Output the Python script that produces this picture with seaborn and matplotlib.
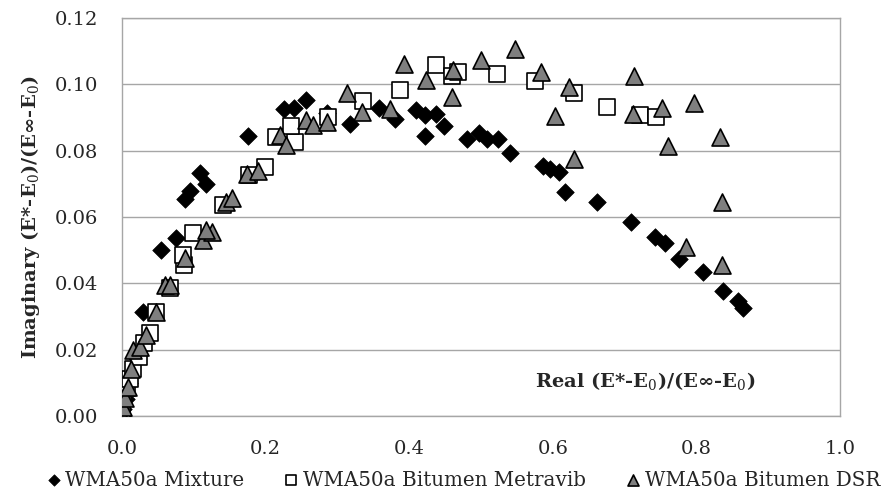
import numpy as np
import pandas as pd
import matplotlib
matplotlib.use('Agg')
import matplotlib.pyplot as plt
import seaborn as sns

# WMA50a Mixture
mix_real = [0.0, 0.002, 0.005, 0.010, 0.018, 0.029, 0.055, 0.075, 0.088, 0.095, 0.109, 0.117,
            0.175, 0.226, 0.240, 0.256, 0.286, 0.318, 0.358, 0.380, 0.410, 0.422, 0.422, 0.438,
            0.448, 0.481, 0.497, 0.508, 0.524, 0.541, 0.587, 0.596, 0.609, 0.617, 0.661, 0.709,
            0.742, 0.756, 0.776, 0.809, 0.837, 0.858, 0.865]
mix_imag = [0.0, 0.002, 0.005, 0.010, 0.018, 0.0314, 0.050, 0.0538, 0.0654, 0.0678, 0.0734, 0.0698,
            0.0844, 0.0925, 0.0928, 0.0954, 0.0915, 0.0879, 0.0930, 0.0895, 0.0922, 0.0907, 0.0844, 0.0912,
            0.0875, 0.0834, 0.0854, 0.0834, 0.0834, 0.0792, 0.0754, 0.0744, 0.0737, 0.0676, 0.0644, 0.0586,
            0.0541, 0.0523, 0.0472, 0.0435, 0.0377, 0.0348, 0.0325]

# WMA50a Bitumen Metravib
met_real = [0.0, 0.0, 0.002, 0.0065, 0.011, 0.016, 0.023, 0.030, 0.039, 0.048, 0.067, 0.086,
            0.085, 0.099, 0.141, 0.177, 0.199, 0.215, 0.241, 0.236, 0.287, 0.336, 0.387, 0.437,
            0.459, 0.468, 0.522, 0.575, 0.629, 0.676, 0.722, 0.744]
met_imag = [0.0, 0.0018, 0.0053, 0.0083, 0.0113, 0.0143, 0.0179, 0.0219, 0.0249, 0.0314, 0.0385, 0.0455,
            0.0485, 0.0551, 0.0636, 0.0727, 0.0750, 0.0842, 0.0827, 0.0874, 0.0903, 0.0951, 0.0983, 0.1058,
            0.1025, 0.1038, 0.1031, 0.1010, 0.0975, 0.0932, 0.0909, 0.0902]

# WMA50a Bitumen DSR
dsr_real = [0.0, 0.002, 0.004, 0.009, 0.013, 0.016, 0.025, 0.034, 0.048, 0.060, 0.067, 0.088,
            0.113, 0.125, 0.117, 0.145, 0.153, 0.174, 0.190, 0.220, 0.228, 0.256, 0.266, 0.285,
            0.313, 0.334, 0.373, 0.393, 0.423, 0.459, 0.461, 0.500, 0.547, 0.583, 0.603, 0.622,
            0.630, 0.713, 0.712, 0.752, 0.760, 0.797, 0.786, 0.833, 0.835, 0.835]
dsr_imag = [0.0, 0.0028, 0.0053, 0.0088, 0.0143, 0.0199, 0.0209, 0.0244, 0.0314, 0.0395, 0.0395, 0.0475,
            0.0531, 0.0556, 0.0561, 0.0646, 0.0656, 0.0731, 0.0740, 0.0847, 0.0817, 0.0892, 0.0877, 0.0887,
            0.0975, 0.0918, 0.0926, 0.1061, 0.1013, 0.0963, 0.1042, 0.1073, 0.1108, 0.1036, 0.0904, 0.0993,
            0.0774, 0.1025, 0.0912, 0.0930, 0.0814, 0.0945, 0.0510, 0.0840, 0.0644, 0.0455]

serie_names = ['WMA50a Mixture', 'WMA50a Bitumen Metravib', 'WMA50a Bitumen DSR']
x_ticks = [0.0, 0.2, 0.4, 0.6, 0.8, 1.0]
y_ticks = [0.00, 0.02, 0.04, 0.06, 0.08, 0.10, 0.12]

sns.set_style('white')
plt.rcParams['font.family'] = ['DejaVu Serif']
plt.rcParams['mathtext.fontset'] = 'dejavuserif'

fig = plt.figure(figsize=(8.9, 4.93), dpi=100)
ax = fig.add_axes([122 / 890, 1 - 416 / 493, 718 / 890, 398 / 493])

sns.scatterplot(x=mix_real, y=mix_imag, marker='D', s=80, color='black', edgecolor='black',
                linewidth=0.5, label=serie_names[0], ax=ax, zorder=3)
sns.scatterplot(x=met_real, y=met_imag, marker='s', s=125, color='white', edgecolor='black',
                linewidth=1.2, label=serie_names[1], ax=ax, zorder=4)
sns.scatterplot(x=dsr_real, y=dsr_imag, marker='^', s=150, color='#7f7f7f', edgecolor='black',
                linewidth=1.2, label=serie_names[2], ax=ax, zorder=5)

ax.set_xlim(0, 1.0)
ax.set_ylim(0, 0.12)
ax.set_xticks(x_ticks)
ax.set_yticks(y_ticks)
ax.set_xticklabels([f'{v:.1f}' for v in x_ticks], fontsize=14)
ax.set_yticklabels([f'{v:.2f}' for v in y_ticks], fontsize=14)
ax.tick_params(axis='y', length=0, pad=17)
ax.tick_params(axis='x', length=0, pad=17)
ax.yaxis.grid(True, color='#a6a6a6', linewidth=1)
ax.set_axisbelow(True)
for sp in ax.spines.values():
    sp.set_color('#a6a6a6')
    sp.set_linewidth(1)

ax.set_ylabel('Imaginary (E*-E$_0$)/(E∞-E$_0$)', fontsize=14, fontweight='bold')
ax.yaxis.set_label_coords(-(122 - 42) / 718, 0.5)
ax.set_xlabel('')
ax.text(0.882, 0.088, 'Real (E*-E$_0$)/(E∞-E$_0$)', transform=ax.transAxes, ha='right', va='center',
        fontsize=14, fontweight='bold')

handles, labels = ax.get_legend_handles_labels()
ax.legend(handles, labels, loc='center', bbox_to_anchor=(0.472, -0.161), ncol=3, frameon=False,
          fontsize=14.3, handletextpad=0.0, columnspacing=1.75, markerscale=0.65, handlelength=1.2)

fig.savefig('out.png', dpi=100)
